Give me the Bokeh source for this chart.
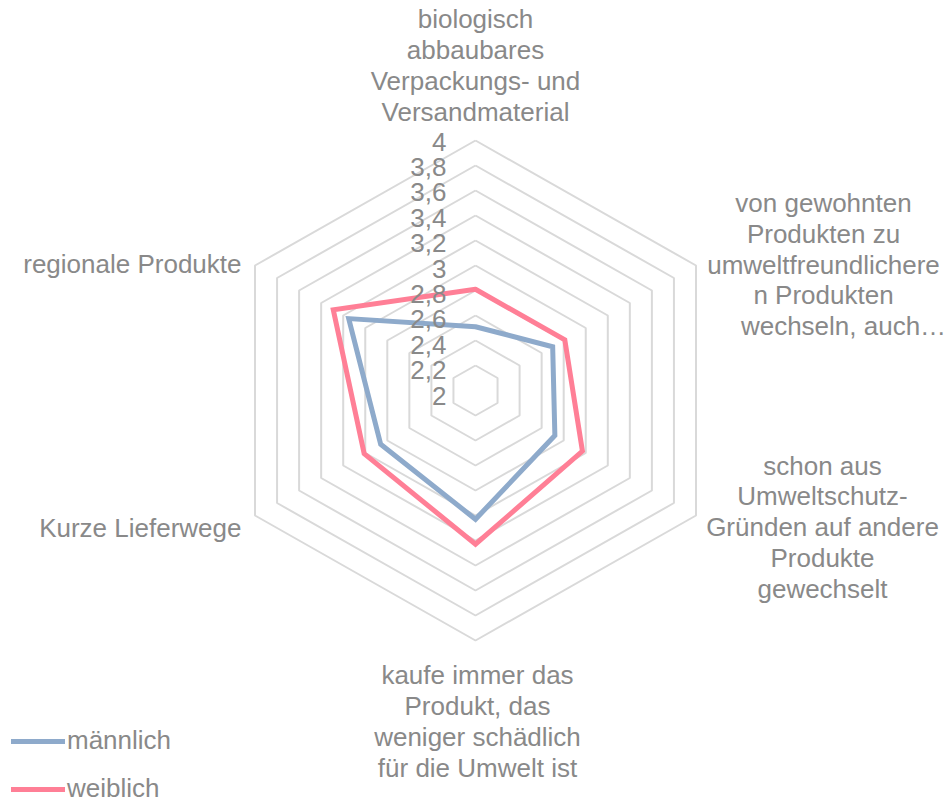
import numpy as np
from bokeh.plotting import figure
from bokeh.models import Range1d, Legend, LegendItem
from bokeh.core.properties import value
from bokeh.embed import file_html
from bokeh.resources import INLINE

# ---- data ----
categories = [
    "biologisch\nabbaubares\nVerpackungs- und\nVersandmaterial",
    "von gewohnten\nProdukten zu\numweltfreundlichere\nn Produkten\nwechseln, auch\u2026",
    "schon aus\nUmweltschutz-\nGr\u00fcnden auf andere\nProdukte\ngewechselt",
    "kaufe immer das\nProdukt, das\nweniger sch\u00e4dlich\nf\u00fcr die Umwelt ist",
    "Kurze Lieferwege",
    "regionale Produkte",
]
maennlich = [2.51, 2.70, 2.72, 3.03, 2.86, 3.15]
weiblich = [2.81, 2.81, 2.97, 3.23, 3.01, 3.29]
tick_values = [2.0, 2.2, 2.4, 2.6, 2.8, 3.0, 3.2, 3.4, 3.6, 3.8, 4.0]
tick_labels = ["2", "2,2", "2,4", "2,6", "2,8", "3", "3,2", "3,4", "3,6", "3,8", "4"]
series_names = ["m\u00e4nnlich", "weiblich"]

# ---- styling ----
TXT = "#898989"
GRID = "#d9d9d9"
BLUE = "#8eaacb"
PINK = "#ff7f96"
FONT = "Liberation Sans"
FS = "26px"
RMIN = 2.0
LINE_SP = 30.7

# reference pixel geometry
CX, CY = 475.0, 390.0
SX, SY = 127.3, 125.0
W, H = 948, 804


def px2x(px):
    return (px - CX) / SX


def py2y(py):
    return (CY - py) / SY


n = len(categories)
angles = np.pi / 2 - np.arange(n) * 2 * np.pi / n


def polar(vals):
    r = np.asarray(vals, dtype=float) - RMIN
    return r * np.cos(angles), r * np.sin(angles)


p = figure(
    width=W, height=H, output_backend="svg", toolbar_location=None,
    x_range=Range1d(px2x(0), px2x(W)), y_range=Range1d(py2y(H), py2y(0)),
    min_border=0, outline_line_color=None,
)
p.axis.visible = False
p.grid.visible = False
p.background_fill_color = "white"
p.border_fill_color = "white"

# grid rings
xs, ys = [], []
for t in tick_values[1:]:
    gx, gy = polar([t] * n)
    xs.append(list(gx) + [gx[0]])
    ys.append(list(gy) + [gy[0]])
p.multi_line(xs, ys, line_color=GRID, line_width=2)

# series
renderers = []
for vals, col in [(maennlich, BLUE), (weiblich, PINK)]:
    x, y = polar(vals)
    r = p.line(list(x) + [x[0]], list(y) + [y[0]], line_color=col, line_width=5,
               line_join="miter", line_cap="round")
    renderers.append(r)

# tick labels
p.text(x=[px2x(446)] * len(tick_values),
       y=[py2y(395 - (t - RMIN) / 0.2 * 25.4) for t in tick_values],
       text=tick_labels, text_align="right", text_baseline="middle",
       text_color=TXT, text_font=value(FONT), text_font_size=FS)

# category labels (block centres in reference pixels)
lab_x = [475, 823, 822, 477, 241, 241]
lab_y = [65, 264, 526.6, 721, 527, 263]
aligns = ["center", "center", "center", "center", "right", "right"]
for i, (c, lx, ly, al) in enumerate(zip(categories, lab_x, lab_y, aligns)):
    lines = c.split("\n")
    k = len(lines)
    for j, ln in enumerate(lines):
        yy = ly + (j - (k - 1) / 2) * LINE_SP
        xx = lx + (20 if (i == 1 and j == k - 1) else 0)
        p.text(x=[px2x(xx)], y=[py2y(yy)], text=[ln], text_align=al,
               text_baseline="middle", text_color=TXT, text_font=value(FONT),
               text_font_size=FS)

legend = Legend(
    items=[LegendItem(label=series_names[0], renderers=[renderers[0]]),
           LegendItem(label=series_names[1], renderers=[renderers[1]])],
    location=(11, 0), orientation="vertical",
    glyph_width=54, glyph_height=22, label_height=22, label_standoff=2,
    spacing=17, padding=0, margin=0, border_line_color=None,
    background_fill_alpha=0,
    label_text_font=FONT, label_text_font_size=FS, label_text_color=TXT,
)
p.add_layout(legend)

open("out.html", "w").write(file_html(p, INLINE))
